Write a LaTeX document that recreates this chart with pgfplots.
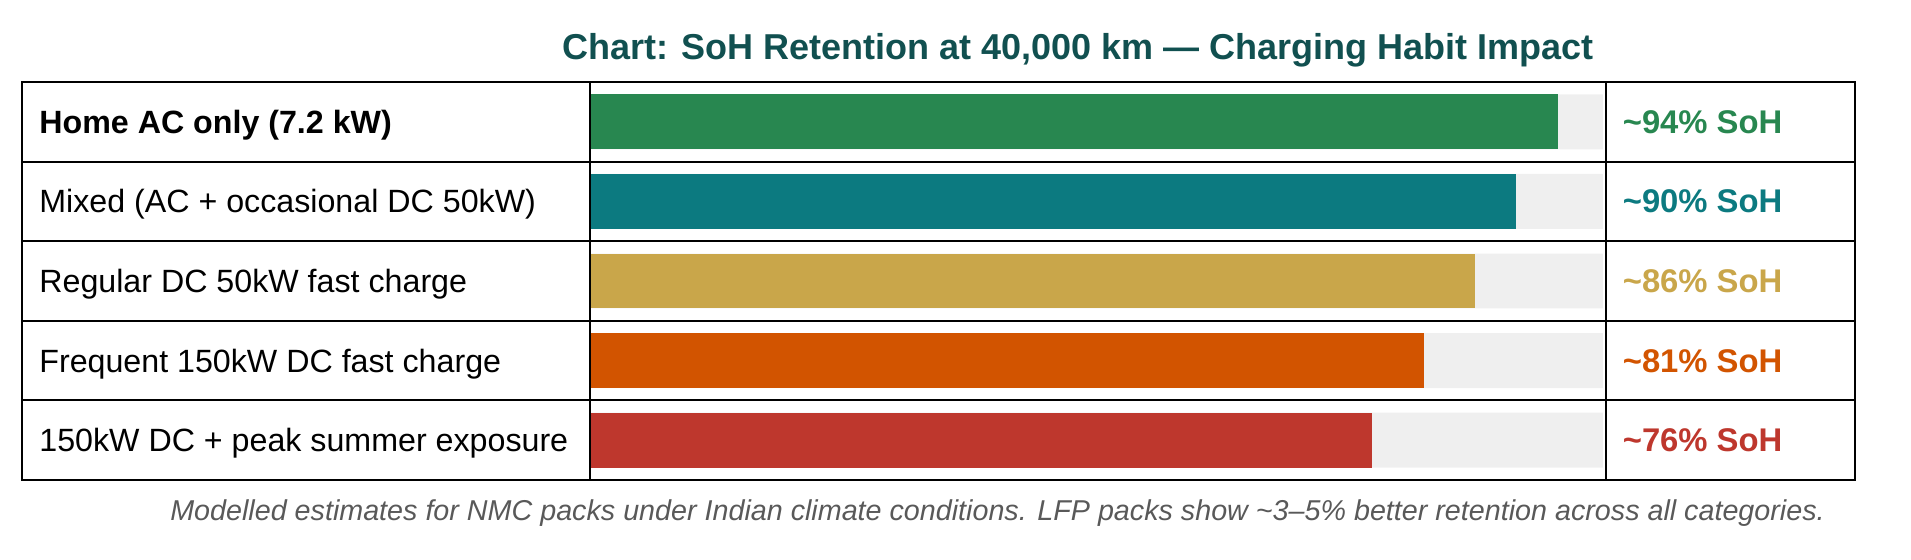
\documentclass[border=0pt]{standalone}
\usepackage{pgfplots}
\pgfplotsset{compat=1.18}
\usepackage{fontspec}
\setmainfont{Liberation Sans}

\definecolor{cGreen}{HTML}{288750}
\definecolor{cTeal}{HTML}{0C7A80}
\definecolor{cGold}{HTML}{C9A64A}
\definecolor{cOrange}{HTML}{D25400}
\definecolor{cRed}{HTML}{BE372D}
\definecolor{cTitle}{HTML}{115050}
\definecolor{cTrack}{HTML}{EFEFEF}

\begin{document}
\begin{tikzpicture}
\useasboundingbox (0,0) rectangle (955.5pt,280pt);

% title
\node[anchor=base, text=cTitle, font=\fontsize{18}{21}\selectfont\bfseries]
  at (539pt,250pt) {Chart: SoH Retention at 40,000 km — Charging Habit Impact};

\begin{axis}[
    at={(10.95pt,40pt)}, anchor=south west,
    scale only axis,
    width=916.55pt, height=199pt,
    xmin=-55.24, xmax=122.9,
    ymin=-0.5, ymax=4.5,
    y dir=reverse,
    hide axis,
    clip=false,
    xbar, bar shift=0, bar width=0.69,
]
    % grey track behind each bar
    \addplot[fill=cTrack, draw=none] coordinates {(98.4,0) (98.4,1) (98.4,2) (98.4,3) (98.4,4)};
    % SoH retention (%)
    \addplot[fill=cGreen,  draw=none] coordinates {(94,0)};
    \addplot[fill=cTeal,   draw=none] coordinates {(90,1)};
    \addplot[fill=cGold,   draw=none] coordinates {(86,2)};
    \addplot[fill=cOrange, draw=none] coordinates {(81,3)};
    \addplot[fill=cRed,    draw=none] coordinates {(76,4)};

    % table frame
    \draw[line width=1pt] (axis cs:-55.24,-0.5) rectangle (axis cs:122.9,4.5);
    \draw[line width=1pt] (axis cs:-55.24,0.5) -- (axis cs:122.9,0.5);
    \draw[line width=1pt] (axis cs:-55.24,1.5) -- (axis cs:122.9,1.5);
    \draw[line width=1pt] (axis cs:-55.24,2.5) -- (axis cs:122.9,2.5);
    \draw[line width=1pt] (axis cs:-55.24,3.5) -- (axis cs:122.9,3.5);
    \draw[line width=1pt] (axis cs:0,-0.5) -- (axis cs:0,4.5);
    \draw[line width=1pt] (axis cs:98.7,-0.5) -- (axis cs:98.7,4.5);

    % row labels
    \begin{scope}[every node/.style={anchor=base west, yshift=-5.8pt, inner sep=0pt,
                  font=\fontsize{16.1}{19}\selectfont}]
    \node at (axis cs:-53.58,0) {\bfseries Home AC only (7.2 kW)};
    \node at (axis cs:-53.58,1) {Mixed (AC + occasional DC 50kW)};
    \node at (axis cs:-53.58,2) {Regular DC 50kW fast charge};
    \node at (axis cs:-53.58,3) {Frequent 150kW DC fast charge};
    \node at (axis cs:-53.58,4) {150kW DC + peak summer exposure};
    \end{scope}

    % value labels
    \begin{scope}[every node/.style={anchor=base west, yshift=-5.8pt, inner sep=0pt,
                  font=\fontsize{16.4}{19}\selectfont\bfseries}]
    \node[text=cGreen]  at (axis cs:100.3,0) {\textasciitilde 94\% SoH};
    \node[text=cTeal]   at (axis cs:100.3,1) {\textasciitilde 90\% SoH};
    \node[text=cGold]   at (axis cs:100.3,2) {\textasciitilde 86\% SoH};
    \node[text=cOrange] at (axis cs:100.3,3) {\textasciitilde 81\% SoH};
    \node[text=cRed]    at (axis cs:100.3,4) {\textasciitilde 76\% SoH};
    \end{scope}
\end{axis}

% footnote
\node[anchor=base, text=black!65, font=\fontsize{14.35}{17}\selectfont\itshape]
  at (498.8pt,19.5pt) {Modelled estimates for NMC packs under Indian climate conditions. LFP packs show \textasciitilde 3–5\% better retention across all categories.};
\end{tikzpicture}
\end{document}
